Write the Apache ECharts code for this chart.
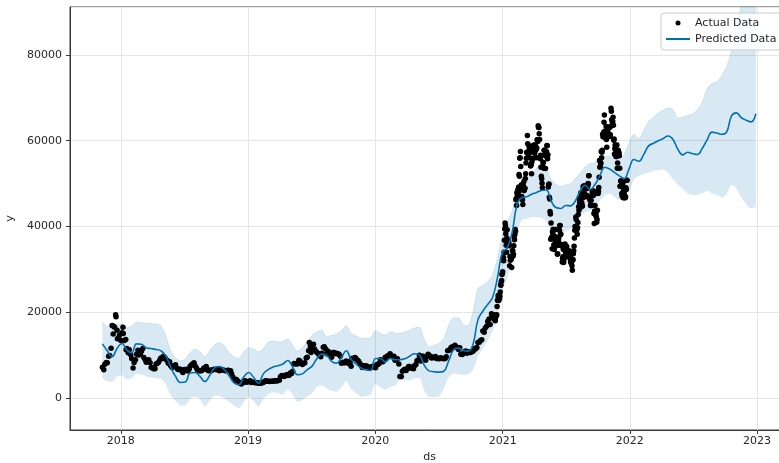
<!DOCTYPE html>
<html>
<head>
<meta charset="utf-8">
<title>BTC forecast</title>
<script src="https://cdn.jsdelivr.net/npm/echarts@6/dist/echarts.min.js"></script>
<style>
  html, body { margin: 0; padding: 0; background: #ffffff; }
  #chart { width: 779px; height: 463px; }
</style>
</head>
<body>
<div id="chart"></div>
<script>
// Observed closing prices (weekly through 2020, then every few days)
const actualDates = [
  '2017-11-09','2017-11-16','2017-11-23','2017-11-30','2017-12-07','2017-12-10','2017-12-14','2017-12-17','2017-12-21','2017-12-22','2017-12-28',
  '2018-01-04','2018-01-07','2018-01-11','2018-01-16','2018-01-18','2018-01-25','2018-02-01','2018-02-05','2018-02-08','2018-02-15','2018-02-22',
  '2018-03-01','2018-03-08','2018-03-15','2018-03-22','2018-03-29','2018-04-05','2018-04-12','2018-04-19','2018-04-26','2018-05-03','2018-05-10',
  '2018-05-17','2018-05-24','2018-05-31','2018-06-07','2018-06-14','2018-06-21','2018-06-28','2018-07-05','2018-07-12','2018-07-19','2018-07-26',
  '2018-08-02','2018-08-09','2018-08-16','2018-08-23','2018-08-30','2018-09-06','2018-09-13','2018-09-20','2018-09-27','2018-10-04','2018-10-11',
  '2018-10-18','2018-10-25','2018-11-01','2018-11-08','2018-11-15','2018-11-22','2018-11-29','2018-12-06','2018-12-13','2018-12-20','2018-12-27',
  '2019-01-03','2019-01-10','2019-01-17','2019-01-24','2019-01-31','2019-02-07','2019-02-14','2019-02-21','2019-02-28','2019-03-07','2019-03-14',
  '2019-03-21','2019-03-28','2019-04-04','2019-04-11','2019-04-18','2019-04-25','2019-05-02','2019-05-09','2019-05-16','2019-05-23','2019-05-30',
  '2019-06-06','2019-06-13','2019-06-20','2019-06-26','2019-06-29','2019-07-04','2019-07-11','2019-07-18','2019-07-25','2019-08-01','2019-08-08',
  '2019-08-15','2019-08-22','2019-08-29','2019-09-05','2019-09-12','2019-09-19','2019-09-26','2019-10-03','2019-10-10','2019-10-17','2019-10-24',
  '2019-10-26','2019-10-31','2019-11-07','2019-11-14','2019-11-21','2019-11-28','2019-12-05','2019-12-12','2019-12-19','2019-12-26',
  '2020-01-02','2020-01-09','2020-01-16','2020-01-23','2020-01-30','2020-02-06','2020-02-13','2020-02-20','2020-02-27','2020-03-05','2020-03-12',
  '2020-03-19','2020-03-26','2020-04-02','2020-04-09','2020-04-16','2020-04-23','2020-04-30','2020-05-07','2020-05-14','2020-05-21','2020-05-28',
  '2020-06-04','2020-06-11','2020-06-18','2020-06-25','2020-07-02','2020-07-09','2020-07-16','2020-07-23','2020-07-30','2020-08-06','2020-08-13',
  '2020-08-20','2020-08-27','2020-09-03','2020-09-10','2020-09-17','2020-09-24','2020-10-01','2020-10-08','2020-10-15','2020-10-22','2020-10-29',
  '2020-11-05','2020-11-12','2020-11-19','2020-11-26','2020-12-01','2020-12-04','2020-12-08','2020-12-11','2020-12-15','2020-12-17','2020-12-20',
  '2020-12-23','2020-12-26','2020-12-29',
  '2021-01-01','2021-01-03','2021-01-06','2021-01-08','2021-01-10','2021-01-12','2021-01-14','2021-01-17','2021-01-20','2021-01-22','2021-01-25',
  '2021-01-28','2021-01-31','2021-02-03','2021-02-06','2021-02-08','2021-02-11','2021-02-14','2021-02-17','2021-02-20','2021-02-22','2021-02-24',
  '2021-02-26','2021-03-01','2021-03-04','2021-03-07','2021-03-10','2021-03-13','2021-03-15','2021-03-18','2021-03-21','2021-03-24','2021-03-26',
  '2021-03-29','2021-04-01','2021-04-04','2021-04-07','2021-04-10','2021-04-13','2021-04-15','2021-04-18','2021-04-21','2021-04-24','2021-04-27',
  '2021-04-30','2021-05-03','2021-05-06','2021-05-09','2021-05-12','2021-05-15','2021-05-17','2021-05-19','2021-05-22','2021-05-24','2021-05-27',
  '2021-05-30','2021-06-02','2021-06-05','2021-06-08','2021-06-11','2021-06-14','2021-06-17','2021-06-20','2021-06-22','2021-06-25','2021-06-28',
  '2021-07-01','2021-07-04','2021-07-07','2021-07-10','2021-07-13','2021-07-16','2021-07-19','2021-07-21','2021-07-24','2021-07-26','2021-07-29',
  '2021-08-01','2021-08-04','2021-08-07','2021-08-10','2021-08-13','2021-08-16','2021-08-19','2021-08-22','2021-08-25','2021-08-28','2021-08-31',
  '2021-09-03','2021-09-06','2021-09-08','2021-09-11','2021-09-14','2021-09-17','2021-09-20','2021-09-23','2021-09-26','2021-09-29','2021-10-01',
  '2021-10-04','2021-10-06','2021-10-09','2021-10-12','2021-10-15','2021-10-18','2021-10-20','2021-10-23','2021-10-26','2021-10-28','2021-10-31',
  '2021-11-03','2021-11-06','2021-11-08','2021-11-10','2021-11-13','2021-11-16','2021-11-19','2021-11-22','2021-11-25','2021-11-28','2021-12-01',
  '2021-12-04','2021-12-07','2021-12-10','2021-12-13','2021-12-16','2021-12-19','2021-12-22','2021-12-24'
];
const actualPrices = [
  7143,7870,8200,9900,16900,14900,16500,19400,15800,13800,14600,
  15200,16500,13400,11200,11500,11200,9170,6955,8250,10200,10000,
  10900,9400,8300,8900,7100,6800,7900,8300,9300,9700,9000,
  8100,7500,7500,7700,6600,6700,5900,6550,6250,7400,7900,
  7500,6500,6300,6500,7000,6500,6500,6500,6650,6580,6300,
  6500,6400,6400,6400,5600,4300,4270,3500,3250,4000,3650,
  3800,3600,3650,3600,3450,3400,3600,3980,3850,3870,3900,
  4000,4030,4900,5050,5300,5200,5800,6200,7900,7900,8600,
  7800,8200,9500,12900,11900,11200,11400,10600,9900,10400,11900,
  10300,10100,9500,10600,10400,10200,8100,8200,8600,8000,7400,
  9200,9200,9200,8600,7600,7500,7500,7200,7100,7200,
  7000,7800,8900,8400,9500,9800,10300,9600,8800,9100,4970,
  6200,6700,6800,7300,7100,7500,8650,9950,9700,9100,9600,
  9800,9300,9400,9200,9100,9200,9130,9600,11100,11750,11750,
  11900,11300,10200,10350,10950,10750,10600,10900,11400,12900,13400,
  15600,16300,17800,17100,18800,18700,18300,18000,19400,22800,23500,
  23200,26400,27400,
  29400,32800,36800,40800,38300,34000,39200,35800,35500,33000,32300,
  33100,33100,37600,39300,46200,47900,48700,52100,56000,54000,49700,
  46300,49600,48400,51200,55900,61200,56000,57800,57300,54500,55100,
  57600,59000,58200,56000,60200,63500,63100,56200,53800,50100,55000,
  57800,56600,56400,58800,49200,46800,43500,37000,37500,38700,39300,
  35700,37600,35500,33600,37300,40200,38100,35800,32500,31600,34400,
  33500,35300,33700,33800,32700,31500,30800,32100,34300,37300,40000,
  39900,39700,44600,45600,47800,45600,46700,49300,48800,49000,47200,
  50000,51800,46400,45200,47100,47300,43000,44900,43200,41600,48200,
  49100,55400,54900,56000,61500,62000,66000,61300,60300,62000,61300,
  63000,61400,67600,64900,64500,60100,58100,56300,59000,57200,57200,
  49400,50600,47100,46700,47600,46700,48600,50800
];

// Additional observations between the ones above (Mondays, Nov 2017 - Nov 2020)
const midweekDates = [
  '2017-11-13','2017-11-20','2017-11-27','2017-12-04','2017-12-11','2017-12-18','2017-12-25',
  '2018-01-01','2018-01-08','2018-01-15','2018-01-22','2018-01-29','2018-02-12','2018-02-19','2018-02-26','2018-03-05','2018-03-12',
  '2018-03-19','2018-03-26','2018-04-02','2018-04-09','2018-04-16','2018-04-23','2018-04-30','2018-05-07','2018-05-14','2018-05-21',
  '2018-05-28','2018-06-04','2018-06-11','2018-06-18','2018-06-25','2018-07-02','2018-07-09','2018-07-16','2018-07-23','2018-07-30',
  '2018-08-06','2018-08-13','2018-08-20','2018-08-27','2018-09-03','2018-09-10','2018-09-17','2018-09-24','2018-10-01','2018-10-08',
  '2018-10-15','2018-10-22','2018-10-29','2018-11-05','2018-11-12','2018-11-19','2018-11-26','2018-12-03','2018-12-10','2018-12-17',
  '2018-12-24','2018-12-31',
  '2019-01-07','2019-01-14','2019-01-21','2019-01-28','2019-02-04','2019-02-11','2019-02-18','2019-02-25','2019-03-04','2019-03-11',
  '2019-03-18','2019-03-25','2019-04-01','2019-04-08','2019-04-15','2019-04-22','2019-04-29','2019-05-06','2019-05-13','2019-05-20',
  '2019-05-27','2019-06-03','2019-06-10','2019-06-17','2019-06-24','2019-07-01','2019-07-08','2019-07-15','2019-07-22','2019-07-29',
  '2019-08-05','2019-08-12','2019-08-19','2019-08-26','2019-09-02','2019-09-09','2019-09-16','2019-09-23','2019-09-30','2019-10-07',
  '2019-10-14','2019-10-21','2019-10-28','2019-11-04','2019-11-11','2019-11-18','2019-11-25','2019-12-02','2019-12-09','2019-12-16',
  '2019-12-23','2019-12-30',
  '2020-01-06','2020-01-13','2020-01-20','2020-01-27','2020-02-03','2020-02-10','2020-02-17','2020-02-24','2020-03-02','2020-03-09',
  '2020-03-16','2020-03-23','2020-03-30','2020-04-06','2020-04-13','2020-04-20','2020-04-27','2020-05-04','2020-05-11','2020-05-18',
  '2020-05-25','2020-06-01','2020-06-08','2020-06-15','2020-06-22','2020-06-29','2020-07-06','2020-07-13','2020-07-20','2020-07-27',
  '2020-08-03','2020-08-10','2020-08-17','2020-08-24','2020-08-31','2020-09-07','2020-09-14','2020-09-21','2020-09-28','2020-10-05',
  '2020-10-12','2020-10-19','2020-10-26','2020-11-02','2020-11-09','2020-11-16','2020-11-23','2020-11-30'
];
const midweekPrices = [
  6560,8250,9730,11600,16700,18900,13900,
  13400,15000,13600,10500,10100,8900,11100,10300,11500,8900,
  8600,8200,7000,6800,8100,8900,9200,9400,8700,8400,
  7100,7500,6900,6700,6250,6600,6700,6700,7700,8200,
  6950,6300,6300,6900,7300,6300,6300,6600,6600,6650,
  6700,6500,6300,6450,6350,4800,4000,3900,3450,3550,
  4000,3740,
  4000,3650,3550,3450,3450,3600,3900,3850,3800,3900,
  4000,3950,4100,5200,5000,5400,5250,5700,8000,8000,
  8800,8100,8000,9300,11000,10600,12500,10900,10300,9600,
  11800,11400,10900,10200,10600,10300,10300,9700,8300,8200,
  8400,8200,9200,9400,8800,8100,7100,7300,7400,6900,
  7300,7300,
  7800,8100,8700,8900,9300,9850,9700,9700,8900,7900,
  5000,6500,6400,7300,6900,6800,7800,8900,8600,9700,
  8800,10200,9700,9400,9650,9200,9350,9250,9160,11000,
  11200,11900,12250,11750,11700,10100,10700,10400,10700,10800,
  11500,11750,13000,13550,15300,16700,18400,19600
];

// Additional daily observations from Dec 2020 to Dec 2021
const dailyDates = [
  '2020-12-02','2020-12-05','2020-12-06','2020-12-07','2020-12-09','2020-12-10','2020-12-12','2020-12-13','2020-12-14','2020-12-16',
  '2020-12-18','2020-12-19','2020-12-21','2020-12-22','2020-12-24','2020-12-25','2020-12-27','2020-12-28','2020-12-30','2020-12-31',
  '2021-01-02','2021-01-04','2021-01-05','2021-01-07','2021-01-09','2021-01-11','2021-01-13','2021-01-15','2021-01-16','2021-01-18',
  '2021-01-19','2021-01-21','2021-01-23','2021-01-24','2021-01-26','2021-01-27','2021-01-29','2021-01-30','2021-02-01','2021-02-02',
  '2021-02-04','2021-02-05','2021-02-07','2021-02-09','2021-02-10','2021-02-12','2021-02-13','2021-02-15','2021-02-16','2021-02-18',
  '2021-02-19','2021-02-21','2021-02-23','2021-02-25','2021-02-27','2021-02-28','2021-03-02','2021-03-03','2021-03-05','2021-03-06',
  '2021-03-08','2021-03-09','2021-03-11','2021-03-12','2021-03-14','2021-03-16','2021-03-17','2021-03-19','2021-03-20','2021-03-22',
  '2021-03-23','2021-03-25','2021-03-27','2021-03-28','2021-03-30','2021-03-31','2021-04-02','2021-04-03','2021-04-05','2021-04-06',
  '2021-04-08','2021-04-09','2021-04-11','2021-04-12','2021-04-14','2021-04-16','2021-04-17','2021-04-19','2021-04-20','2021-04-22',
  '2021-04-23','2021-04-25','2021-04-26','2021-04-28','2021-04-29','2021-05-01','2021-05-02','2021-05-04','2021-05-05','2021-05-07',
  '2021-05-08','2021-05-10','2021-05-11','2021-05-13','2021-05-14','2021-05-16','2021-05-18','2021-05-20','2021-05-21','2021-05-23',
  '2021-05-25','2021-05-26','2021-05-28','2021-05-29','2021-05-31','2021-06-01','2021-06-03','2021-06-04','2021-06-06','2021-06-07',
  '2021-06-09','2021-06-10','2021-06-12','2021-06-13','2021-06-15','2021-06-16','2021-06-18','2021-06-19','2021-06-21','2021-06-23',
  '2021-06-24','2021-06-26','2021-06-27','2021-06-29','2021-06-30','2021-07-02','2021-07-03','2021-07-05','2021-07-06','2021-07-08',
  '2021-07-09','2021-07-11','2021-07-12','2021-07-14','2021-07-15','2021-07-17','2021-07-18','2021-07-20','2021-07-22','2021-07-23',
  '2021-07-25','2021-07-27','2021-07-28','2021-07-30','2021-07-31','2021-08-02','2021-08-03','2021-08-05','2021-08-06','2021-08-08',
  '2021-08-09','2021-08-11','2021-08-12','2021-08-14','2021-08-15','2021-08-17','2021-08-18','2021-08-20','2021-08-21','2021-08-23',
  '2021-08-24','2021-08-26','2021-08-27','2021-08-29','2021-08-30','2021-09-01','2021-09-02','2021-09-04','2021-09-05','2021-09-07',
  '2021-09-09','2021-09-10','2021-09-12','2021-09-13','2021-09-15','2021-09-16','2021-09-18','2021-09-19','2021-09-21','2021-09-22',
  '2021-09-24','2021-09-25','2021-09-27','2021-09-28','2021-09-30','2021-10-02','2021-10-03','2021-10-05','2021-10-07','2021-10-08',
  '2021-10-10','2021-10-11','2021-10-13','2021-10-14','2021-10-16','2021-10-17','2021-10-19','2021-10-21','2021-10-22','2021-10-24',
  '2021-10-25','2021-10-27','2021-10-29','2021-10-30','2021-11-01','2021-11-02','2021-11-04','2021-11-05','2021-11-07','2021-11-09',
  '2021-11-11','2021-11-12','2021-11-14','2021-11-15','2021-11-17','2021-11-18','2021-11-20','2021-11-21','2021-11-23','2021-11-24',
  '2021-11-26','2021-11-27','2021-11-29','2021-11-30','2021-12-02','2021-12-03','2021-12-05','2021-12-06','2021-12-08','2021-12-09',
  '2021-12-11','2021-12-12','2021-12-14','2021-12-15','2021-12-17','2021-12-18','2021-12-20','2021-12-21','2021-12-23'
];
const dailyPrices = [
  19200,19200,19400,19200,18500,18300,18800,19200,19300,21300,
  22800,23900,22700,23800,23700,24700,26300,27100,28800,29000,
  32100,32000,34000,39400,40200,35600,37300,36800,36200,36600,
  36000,30800,32100,32300,32600,30400,34300,34300,33500,35500,
  36900,38100,38900,46500,44900,47500,47100,47900,49200,51700,
  55900,57500,48800,47000,46200,45100,48400,50500,48900,48900,
  52300,54800,57300,57200,59300,56800,58900,58300,58100,54100,
  54300,52300,55900,55800,58800,58900,59000,57100,58800,57800,
  58200,58300,60200,59800,63100,61600,60300,55800,56600,51700,
  51100,49000,54000,54900,53600,57800,56600,53500,57400,57400,
  58900,55800,56700,49700,49900,46400,42900,40800,37300,34800,
  38400,39300,35700,34600,37300,36700,39300,36800,35800,33500,
  37300,36700,35600,39100,40200,38300,35800,35500,31700,32900,
  34700,32200,34600,35900,35000,33900,34600,33800,34200,32900,
  33800,34300,33100,32800,31800,31500,31800,29800,32300,33600,
  35400,39100,40000,42200,41600,39200,38200,40900,42800,43800,
  46400,45600,44400,47100,47000,44700,44800,49300,48900,49500,
  47700,46900,49100,48800,47000,48900,49300,49900,51800,46800,
  46100,44900,46100,44900,48100,47800,48300,47300,40700,43600,
  42800,42700,42200,41000,43800,47700,48200,51500,53800,53900,
  54700,57500,57300,57800,60900,61500,64300,62200,60700,61000,
  63300,58500,62300,61900,61000,63200,61400,61000,63300,66900,
  64900,64200,65500,63600,60400,56900,59000,58700,57500,56300,
  53600,54800,57800,57000,56500,53600,49400,50600,50500,47700,
  49300,50100,48400,48900,46700,46900,46900,49000,50800
];

// Model output: estimate and uncertainty interval, every two weeks
const forecastDates = [
  '2017-11-09','2017-11-23','2017-12-07','2017-12-21','2018-01-04','2018-01-18','2018-02-01','2018-02-15','2018-03-01','2018-03-15',
  '2018-03-29','2018-04-12','2018-04-26','2018-05-10','2018-05-24','2018-06-07','2018-06-21','2018-07-05','2018-07-19','2018-08-02',
  '2018-08-16','2018-08-30','2018-09-13','2018-09-27','2018-10-11','2018-10-25','2018-11-08','2018-11-22','2018-12-06','2018-12-20',
  '2019-01-03','2019-01-17','2019-01-31','2019-02-14','2019-02-28','2019-03-14','2019-03-28','2019-04-11','2019-04-25','2019-05-09',
  '2019-05-23','2019-06-06','2019-06-20','2019-07-04','2019-07-18','2019-08-01','2019-08-15','2019-08-29','2019-09-12','2019-09-26',
  '2019-10-10','2019-10-24','2019-11-07','2019-11-21','2019-12-05','2019-12-19','2020-01-02','2020-01-16','2020-01-30','2020-02-13',
  '2020-02-27','2020-03-12','2020-03-26','2020-04-09','2020-04-23','2020-05-07','2020-05-21','2020-06-04','2020-06-18','2020-07-02',
  '2020-07-16','2020-07-30','2020-08-13','2020-08-27','2020-09-10','2020-09-24','2020-10-08','2020-10-22','2020-11-05','2020-11-19',
  '2020-12-03','2020-12-17','2020-12-31','2021-01-14','2021-01-28','2021-02-11','2021-02-25','2021-03-11','2021-03-25','2021-04-08',
  '2021-04-22','2021-05-06','2021-05-20','2021-06-03','2021-06-17','2021-07-01','2021-07-15','2021-07-29','2021-08-12','2021-08-26',
  '2021-09-09','2021-09-23','2021-10-07','2021-10-21','2021-11-04','2021-11-18','2021-12-02','2021-12-16','2021-12-30','2022-01-13',
  '2022-01-27','2022-02-10','2022-02-24','2022-03-10','2022-03-24','2022-04-07','2022-04-21','2022-05-05','2022-05-19','2022-06-02',
  '2022-06-16','2022-06-30','2022-07-14','2022-07-28','2022-08-11','2022-08-25','2022-09-08','2022-09-22','2022-10-06','2022-10-20',
  '2022-11-03','2022-11-17','2022-12-01','2022-12-15','2022-12-29'
];
const yhat = [
  12600,11000,9600,11500,12700,11200,10500,12600,12500,11700,
  11500,11300,11000,9800,7200,5000,3600,3700,5800,5900,
  5000,3800,5200,7000,7300,6600,5100,3500,3100,4900,
  5900,4800,3400,5600,6600,7200,7500,7900,8700,7200,
  5400,5600,6600,7400,9200,10200,9900,8500,8100,9400,
  11000,9000,7900,7000,6500,6400,9200,9200,8400,9200,
  8900,8900,9100,9700,10300,10000,7600,6300,6100,6000,
  6200,8600,11200,11600,11000,10900,12500,18200,20200,21800,
  23400,28000,33900,35000,38500,45000,46700,46900,47500,47900,
  48400,48500,46000,44400,44200,44900,44800,46000,48400,49600,
  48600,49800,51800,53800,53400,52600,51800,51200,53500,55600,
  55200,56800,58800,59400,60000,60500,61100,60300,58000,56700,
  57300,57000,56800,58200,60200,62000,61800,61500,62000,65800,
  66500,65400,64800,64400,66300
];
const yhatUpper = [
  17800,16600,16600,17300,17300,16300,16800,17700,17600,17400,
  17300,17300,16800,14500,11000,9300,8600,9000,10500,11400,
  10700,9600,11000,12400,12900,12200,10500,9600,9200,10700,
  11700,11400,10700,11500,13000,13300,13000,13200,13800,12300,
  10900,11700,13200,14600,15400,15800,14300,14600,14900,15600,
  16900,15100,14500,13900,13900,14000,15700,15000,14600,15400,
  15100,15000,15400,15800,16300,16500,13600,11900,12300,12700,
  13800,17000,18700,18700,17000,16800,20000,25500,26200,27100,
  28600,32500,37900,40900,43500,48900,50500,51400,52200,53500,
  54800,53800,51000,49800,49300,49700,50000,51200,52400,53900,
  54700,54900,55600,56300,56400,56600,55800,56700,59500,61500,
  60500,62400,64500,65500,66500,67100,67700,67300,65300,65500,
  65900,66200,67200,69000,72200,73400,73700,75200,77300,81000,
  85000,92000,96000,98000,100000
];
const yhatLower = [
  4500,3900,3800,5000,5300,4300,4600,5600,5400,5000,
  4800,4600,4400,3200,600,-700,-1800,-1800,-200,300,
  -300,-2000,-700,500,400,-100,-900,-1800,-2500,-900,
  200,-700,-2100,-200,800,1300,1100,700,2000,800,
  -900,-500,400,1100,2600,3000,2200,1600,1400,2400,
  4000,2000,1200,300,400,700,3300,2500,1900,2600,
  2800,4100,4100,4100,4500,4700,1700,200,200,300,
  2200,4800,5700,5500,5300,5500,6500,9600,11600,13400,
  15500,18500,25000,27900,33000,38800,41500,41800,42200,42200,
  42000,41300,39300,38900,38400,38900,39400,40600,42400,43300,
  43700,44500,46100,47200,47700,46900,46100,47000,48200,51000,
  51800,52200,52500,53000,53100,53300,52500,51000,49700,48700,
  47700,47300,47400,47800,48300,47700,47400,46800,47500,49700,
  48800,46800,45200,44200,44600
];

const blue = '#0072B2';
const font = 'DejaVu Sans';

const toPairs = (dates, values) => dates.map((d, i) => [d, values[i]]);
const actualSeries = toPairs(actualDates, actualPrices)
  .concat(toPairs(midweekDates, midweekPrices))
  .concat(toPairs(dailyDates, dailyPrices));
const yhatSeries = toPairs(forecastDates, yhat);
const lowerSeries = toPairs(forecastDates, yhatLower);
const spanSeries = forecastDates.map((d, i) => [d, yhatUpper[i] - yhatLower[i]]);

const chart = echarts.init(document.getElementById('chart'), null, { renderer: 'canvas' });

chart.setOption({
  animation: false,
  backgroundColor: '#ffffff',
  textStyle: { fontFamily: font },
  grid: {
    left: 70, right: -10, top: 7, bottom: 33,
    outerBoundsMode: 'none',
    containLabel: false,
    show: true, borderColor: '#3a3a3a', borderWidth: 1, backgroundColor: 'transparent'
  },
  legend: {
    data: [
      { name: 'Actual Data', icon: 'circle' },
      { name: 'Predicted Data', itemStyle: { opacity: 0, borderWidth: 0 } }
    ],
    orient: 'vertical',
    left: 661, top: 13,
    padding: [3, 6, 4, 4],
    itemWidth: 24, itemHeight: 5,
    itemGap: 2, itemTextGap: 7,
    borderColor: '#cccccc', borderWidth: 1, borderRadius: 3,
    backgroundColor: 'rgba(255,255,255,0.85)',
    textStyle: { fontFamily: font, fontSize: 11, color: '#262626', lineHeight: 14 }
  },
  xAxis: {
    type: 'time',
    min: '2017-08-08', max: '2023-04-03',
    minInterval: 365 * 24 * 3600 * 1000,
    maxInterval: 366 * 24 * 3600 * 1000,
    name: 'ds', nameLocation: 'middle', nameGap: 22,
    nameTextStyle: { fontFamily: font, fontSize: 11, color: '#262626' },
    axisLine: { show: true, onZero: false, lineStyle: { color: '#3a3a3a', width: 1 } },
    axisTick: { show: true, length: 4, lineStyle: { color: '#3a3a3a' } },
    axisLabel: {
      fontFamily: font, fontSize: 11, color: '#262626', margin: 6,
      formatter: '{yyyy}', hideOverlap: false
    },
    splitLine: { show: true, lineStyle: { color: '#e6e6e6', width: 1 } }
  },
  yAxis: {
    type: 'value',
    min: -7500, max: 91200,
    name: 'y', nameLocation: 'middle', nameGap: 47, nameRotate: 90,
    nameTextStyle: { fontFamily: font, fontSize: 11, color: '#262626' },
    axisLine: { show: true, lineStyle: { color: '#3a3a3a', width: 1 } },
    axisTick: { show: true, length: 4, lineStyle: { color: '#3a3a3a' } },
    axisLabel: {
      fontFamily: font, fontSize: 11, color: '#262626', margin: 8,
      showMinLabel: false, showMaxLabel: false,
      formatter: (v) => String(v)
    },
    splitLine: { show: true, lineStyle: { color: '#e6e6e6', width: 1 } }
  },
  series: [
    {
      name: 'interval-lower',
      type: 'line',
      data: lowerSeries,
      stack: 'interval',
      stackStrategy: 'all',
      symbol: 'none',
      smooth: 0.2,
      lineStyle: { opacity: 0 },
      silent: true,
      z: 2
    },
    {
      name: 'interval-upper',
      type: 'line',
      data: spanSeries,
      stack: 'interval',
      stackStrategy: 'all',
      symbol: 'none',
      smooth: 0.2,
      lineStyle: { color: 'rgba(0,114,178,0.12)', width: 1 },
      areaStyle: { color: 'rgba(0,114,178,0.22)' },
      silent: true,
      z: 2
    },
    {
      name: 'Actual Data',
      type: 'scatter',
      data: actualSeries,
      symbol: 'circle',
      symbolSize: 5.5,
      large: false,
      itemStyle: { color: '#000000', opacity: 1 },
      z: 3
    },
    {
      name: 'Predicted Data',
      type: 'line',
      data: yhatSeries,
      showSymbol: false,
      symbol: 'none',
      smooth: 0.45,
      lineStyle: { color: blue, width: 1.6 },
      itemStyle: { color: blue },
      z: 4
    }
  ]
});
</script>
</body>
</html>
